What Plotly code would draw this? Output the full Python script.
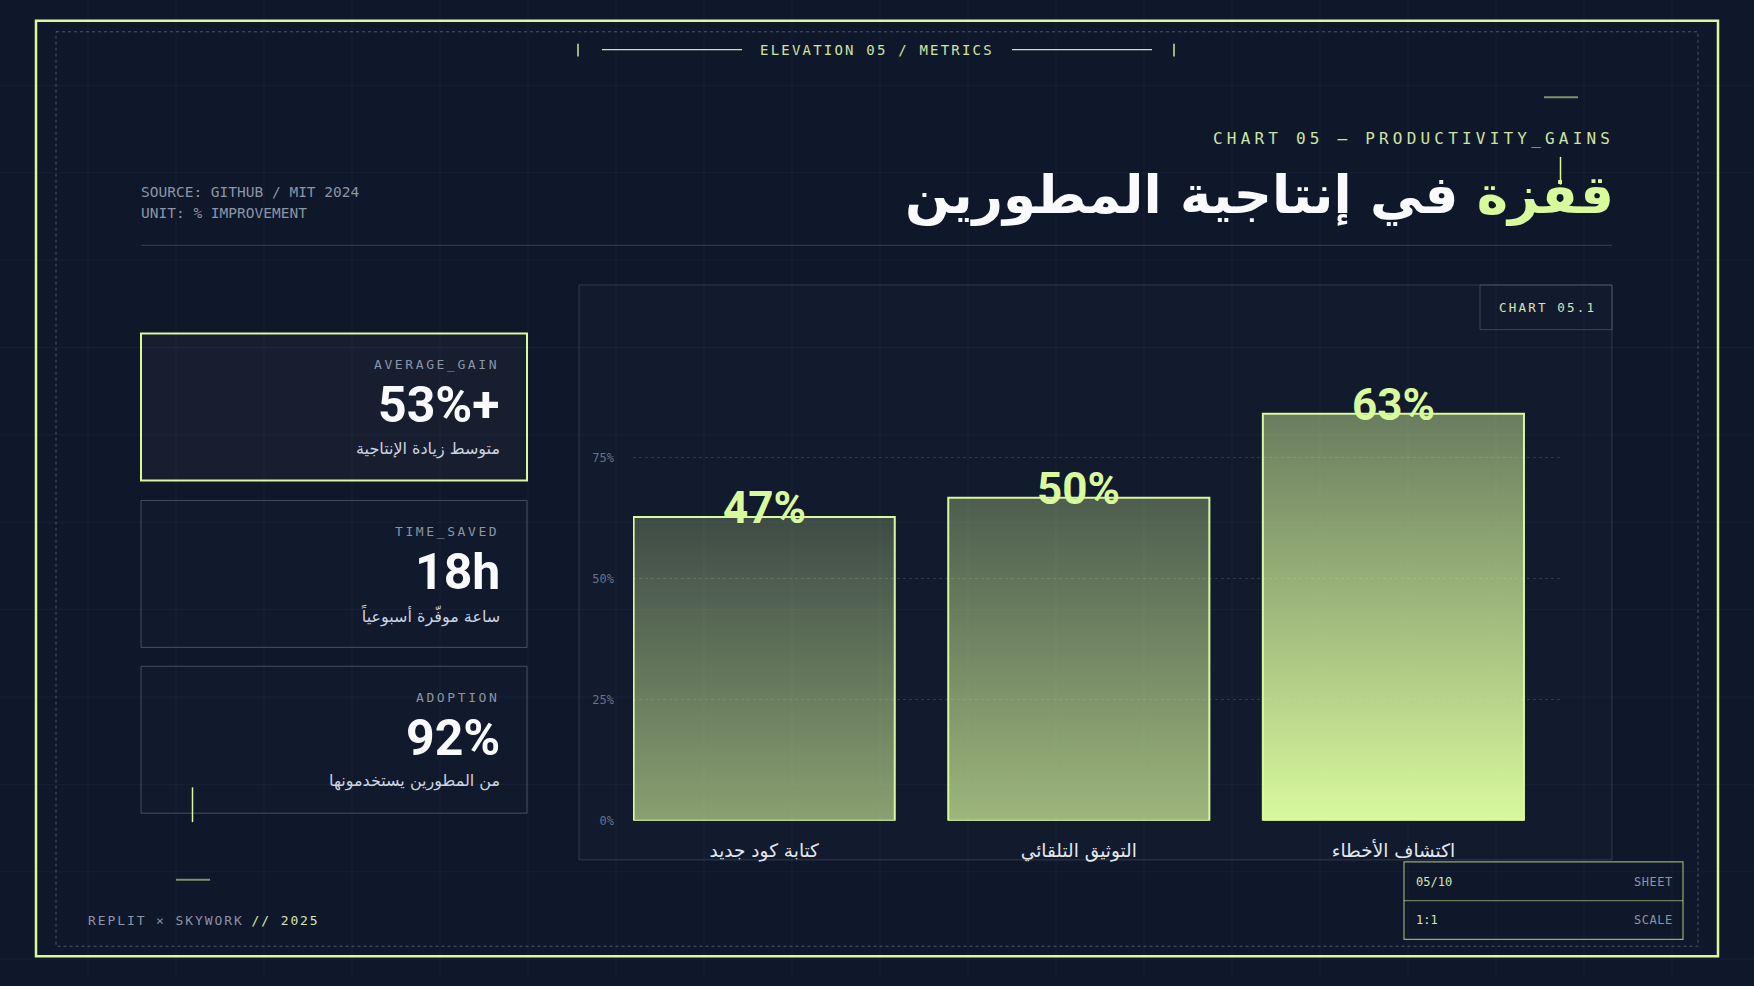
import plotly.graph_objects as go

# ---------------- data ----------------
categories = ["كتابة كود جديد", "التوثيق التلقائي", "اكتشاف الأخطاء"]
gains = [47, 50, 63]
gain_labels = ["47%", "50%", "63%"]
ytick_pct = [0, 25, 50, 75]
ytick_text = ["0%", "25%", "50%", "75%"]

kpi_labels = ["AVERAGE_GAIN", "TIME_SAVED", "ADOPTION"]
kpi_values = ["53%+", "18h", "92%"]
kpi_captions = ["متوسط زيادة الإنتاجية", "ساعة موفّرة أسبوعياً", "من المطورين يستخدمونها"]

title_accent = "قفزة"
title_rest = "في إنتاجية المطورين"

# ---------------- style ----------------
W, H = 1754, 986
BG = "#0f172a"
LIME = "#d9f99d"
LIME_DIM = "#cfe3a2"
GRAY = "#8b95a5"
GRAY2 = "#64748b"
WHITE = "#f8fafc"
MONO = "DejaVu Sans Mono"
AR = "DejaVu Sans"
NUM = "Roboto"

# per-bar gradient (bottom -> top), semi transparent lime
bar_grad = [
    ("rgba(217,249,157,0.60)", "rgba(217,249,157,0.22)"),
    ("rgba(217,249,157,0.70)", "rgba(217,249,157,0.30)"),
    ("rgba(217,249,157,1.00)", "rgba(217,249,157,0.44)"),
]
HALF_W = 0.415
Y_SCALE = 0.75  # axis units per displayed percent
RPAD = 3.5      # annotation padding compensation (right anchored)
LPAD = -2.5     # annotation padding compensation (left anchored)


def px(x):
    return x / W


def py(y):
    return 1 - y / H


def spaced(s, ls):
    return f'<span style="letter-spacing:{ls}px">{s}</span>'


shapes = []
annotations = []


def line(x0, y0, x1, y1, color, width=1, dash=None, layer="above"):
    d = dict(type="line", xref="paper", yref="paper", x0=px(x0), y0=py(y0),
             x1=px(x1), y1=py(y1), line=dict(color=color, width=width), layer=layer)
    if dash:
        d["line"]["dash"] = dash
    shapes.append(d)


def rect(x0, y0, x1, y1, color, width=1, fill="rgba(0,0,0,0)", dash=None, layer="above"):
    d = dict(type="rect", xref="paper", yref="paper", x0=px(x0), y0=py(y0),
             x1=px(x1), y1=py(y1), line=dict(color=color, width=width),
             fillcolor=fill, layer=layer)
    if dash:
        d["line"]["dash"] = dash
    shapes.append(d)


def text(x, y, s, size, color, family=MONO, xanchor="left", weight=400):
    if xanchor == "right":
        x += RPAD
    elif xanchor == "left":
        x += LPAD
    annotations.append(dict(
        xref="paper", yref="paper", x=px(x), y=py(y), text=s, showarrow=False,
        xanchor=xanchor, yanchor="middle",
        font=dict(family=family, size=size, color=color, weight=weight)))


# background blueprint grid
for k in range(1, 20):
    line(88 * k, 0, 88 * k, H, "rgba(148,163,184,0.06)", 1, layer="below")
for k in range(1, 12):
    line(0, 88 * k - 2, W, 88 * k - 2, "rgba(148,163,184,0.06)", 1, layer="below")

# frames
rect(36, 21, 1718, 963, LIME, 2.5, layer="below")
rect(56, 32, 1698, 953, "rgba(148,163,184,0.45)", 1, dash="3px,3px", layer="below")

# header
line(578, 44, 578, 57, LIME_DIM, 1.5)
line(602, 50, 742, 50, LIME_DIM, 1.2)
line(1012, 50, 1152, 50, LIME_DIM, 1.2)
line(1174, 44, 1174, 57, LIME_DIM, 1.5)
text(877, 50, spaced("ELEVATION 05 / METRICS", 2.2), 14, LIME_DIM, xanchor="center")

# top-right decorations
line(1544, 98, 1578, 98, "rgba(217,249,157,0.55)", 2)
text(1612, 139, spaced("CHART 05 — PRODUCTIVITY_GAINS", 4.2), 16, LIME_DIM, xanchor="right")

# title
text(1612, 196,
     f'<span style="color:{LIME}">{title_accent}</span> {title_rest}',
     53, WHITE, family=AR, xanchor="right", weight=700)
line(1560.5, 158, 1560.5, 186, LIME, 1.5)

# source / unit
text(141, 193, "SOURCE: GITHUB / MIT 2024", 14.5, GRAY)
text(141, 215, "UNIT: % IMPROVEMENT", 14.5, GRAY)
line(141, 247, 1612, 247, "rgba(148,163,184,0.30)", 1)

# KPI cards
card_tops = [336, 504, 671]
card_h = 148
for i, top in enumerate(card_tops):
    border = LIME if i == 0 else "rgba(148,163,184,0.40)"
    fill = "rgba(255,255,255,0.03)" if i == 0 else "rgba(255,255,255,0.01)"
    rect(141, top, 527, top + card_h, border, 2 if i == 0 else 1, fill=fill, layer="below")
    text(497, top + 31, spaced(kpi_labels[i], 2.6), 13, GRAY, xanchor="right")
    text(498, top + 72, kpi_values[i], 50, WHITE, family=NUM, xanchor="right", weight=700)
    text(498, top + 116, kpi_captions[i], 16, "#cbd5e1", family=AR, xanchor="right")
line(192.5, 793, 192.5, 828, LIME, 1.5)
line(176, 886, 210, 886, "rgba(217,249,157,0.55)", 2)

# chart panel
rect(579, 287, 1612, 866, "rgba(148,163,184,0.25)", 1, fill="rgba(255,255,255,0.015)", layer="below")
rect(1480, 287, 1612, 332, "rgba(148,163,184,0.30)", 1)
text(1547, 310, spaced("CHART 05.1", 2.2), 12.5, "#d6e6b4", xanchor="center")

# footer
text(88, 927, spaced("REPLIT × SKYWORK", 1.9)
     + f' <span style="color:#d6e6b4;letter-spacing:1.9px">// 2025</span>', 13, GRAY)
rect(1404, 868, 1683, 946, "rgba(217,249,157,0.65)", 1.2)
line(1404, 907, 1683, 907, "rgba(217,249,157,0.45)", 1.2)
text(1416, 888, "05/10", 12, "#d6e6b4")
text(1671, 888, spaced("SHEET", 0.5), 12, GRAY, xanchor="right")
text(1416, 927, "1:1", 12, "#d6e6b4")
text(1671, 927, spaced("SCALE", 0.5), 12, GRAY, xanchor="right")

# ---------------- bars ----------------
fig = go.Figure()
for i, v in enumerate(gains):
    xs = [i - HALF_W, i - HALF_W, i + HALF_W, i + HALF_W, i - HALF_W]
    ys = [0, v, v, 0, 0]
    bot, top = bar_grad[i]
    fig.add_trace(go.Scatter(
        x=xs, y=ys, mode="lines", fill="toself",
        fillgradient=dict(type="vertical", colorscale=[[0, bot], [1, top]]),
        line=dict(color=LIME, width=2), hoverinfo="skip", showlegend=False))
    annotations.append(dict(
        xref="x", yref="y", x=i, y=v, text=gain_labels[i], showarrow=False,
        xanchor="center", yanchor="middle", yshift=9,
        font=dict(family=NUM, size=44, color=LIME, weight=700)))

X0, X1 = 633, 1560
Y0, Y1 = 826.6, 338.6
center0, step = 764.2, 314.6
fig.update_layout(
    autosize=True,
    margin=dict(l=0, r=0, t=0, b=0),
    paper_bgcolor=BG, plot_bgcolor="rgba(0,0,0,0)",
    shapes=shapes, annotations=annotations, showlegend=False,
    xaxis=dict(domain=[px(X0), px(X1)],
               range=[(X0 - center0) / step, (X1 - center0) / step],
               tickvals=list(range(len(categories))), ticktext=categories,
               showgrid=False, zeroline=False, showline=False, ticks="",
               tickfont=dict(family=AR, size=18.5, color="#e2e8f0"),
               ticklabelstandoff=17, fixedrange=True),
    yaxis=dict(domain=[py(Y0), py(Y1)], range=[0, 75],
               tickvals=[t * Y_SCALE for t in ytick_pct], ticktext=ytick_text,
               showgrid=True, gridcolor="rgba(148,163,184,0.22)", griddash="3px,3px",
               gridwidth=1, zeroline=False, showline=False, ticks="",
               tickfont=dict(family=MONO, size=12, color=GRAY2),
               ticklabelstandoff=18, fixedrange=True),
)

post = (
    "document.documentElement.style.margin='0';"
    "document.body.style.margin='0';document.body.style.padding='0';"
    "document.documentElement.style.overflow='hidden';document.body.style.overflow='hidden';"
    "document.documentElement.style.background='" + BG + "';"
    "var gd=document.getElementsByClassName('plotly-graph-div')[0];"
    "gd.style.position='fixed';gd.style.top='0px';gd.style.left='0px';"
    "gd.style.width='100vw';gd.style.height='100vh';"
    "Plotly.Plots.resize(gd);"
)
fig.write_html("out.html", config={"displayModeBar": False, "responsive": True},
               default_width="100vw", default_height="100vh", post_script=post)
